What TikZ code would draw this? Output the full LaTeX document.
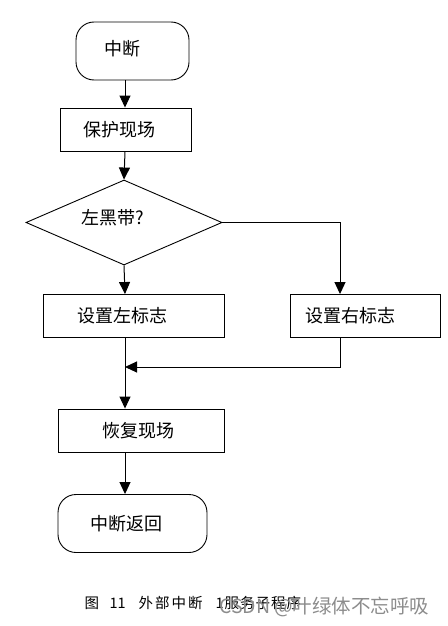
\documentclass[tikz,border=0pt]{standalone}
\usepackage{fontspec}
\newfontfamily\cjk{Noto Sans CJK SC}
\usetikzlibrary{arrows.meta,shapes.geometric}
\begin{document}
\begin{tikzpicture}[x=1pt,y=-1pt,
  every node/.style={font=\cjk\fontsize{18}{21}\selectfont},
  term/.style={draw,line width=0.9pt,rounded corners=18pt,minimum height=58pt,inner sep=0pt},
  proc/.style={draw,line width=0.9pt,minimum height=43pt,inner sep=0pt},
  dec/.style={draw,line width=0.9pt,diamond,inner sep=0pt,minimum width=196pt,minimum height=85pt},
  flow/.style={line width=1pt,-{Triangle[width=11pt,length=12pt]}},
  line/.style={line width=1pt},
  captext/.style={font=\cjk\fontsize{14.5}{16}\selectfont,anchor=west}]
\useasboundingbox (0,0) rectangle (447,626);
\node[term,minimum width=113pt,label={[xshift=-10pt,yshift=2pt]center:中断}] (start) at (132.5,51) {};
\node[proc,minimum width=131pt,label={[xshift=-6pt]center:保护现场}] (save) at (125.5,129.5) {};
\node[dec] (d) at (124,222.5) {};
\node (dt) at (113,218) {左黑带?};
\node[proc,minimum width=181pt,label={[xshift=-11.5pt]center:设置左标志}] (lf) at (133.5,316) {};
\node[proc,minimum width=150pt,label={[xshift=-15pt]center:设置右标志}] (rf) at (365,316) {};
\node[proc,minimum width=166pt,label={[xshift=-3pt]center:恢复现场}] (rest) at (141,430.5) {};
\node[term,minimum width=149pt,label={[xshift=-6.5pt]center:中断返回}] (end) at (132.5,523.5) {};
\coordinate (j) at (125,367);
\draw[flow] (125,80) -- (save.north -| 125,0);
\draw[flow] (save.south -| 125,0) -- (d.north);
\draw[flow] (d.south) -- (lf.north -| 125,0);
\draw[flow] (d.east) -| (rf.north -| 340,0);
\draw[line] (lf.south -| 125,0) -- (j);
\draw[flow] (rf.south -| 340,0) |- (j);
\draw[flow] (j) -- (rest.north -| 125,0);
\draw[flow] (rest.south -| 125,0) -- (end.north -| 125,0);
\node[captext] (c1) at (81,603) {图};
\node[captext] (c2) at (106,603) {11};
\node[captext] (c3) at (135,603) {外\hspace{2pt}部\hspace{2pt}中\hspace{2pt}断};
\node[captext] (c4) at (212,603) {1};
\node[captext] (c5) at (221,603) {服\hspace{1pt}务\hspace{1pt}子\hspace{1pt}程\hspace{1pt}序};
\node[font=\cjk\fontsize{19.5}{22}\selectfont,text=black!45,anchor=east] (wm) at (433,607) {CSDN @叶绿体不忘呼吸};
\end{tikzpicture}
\end{document}
